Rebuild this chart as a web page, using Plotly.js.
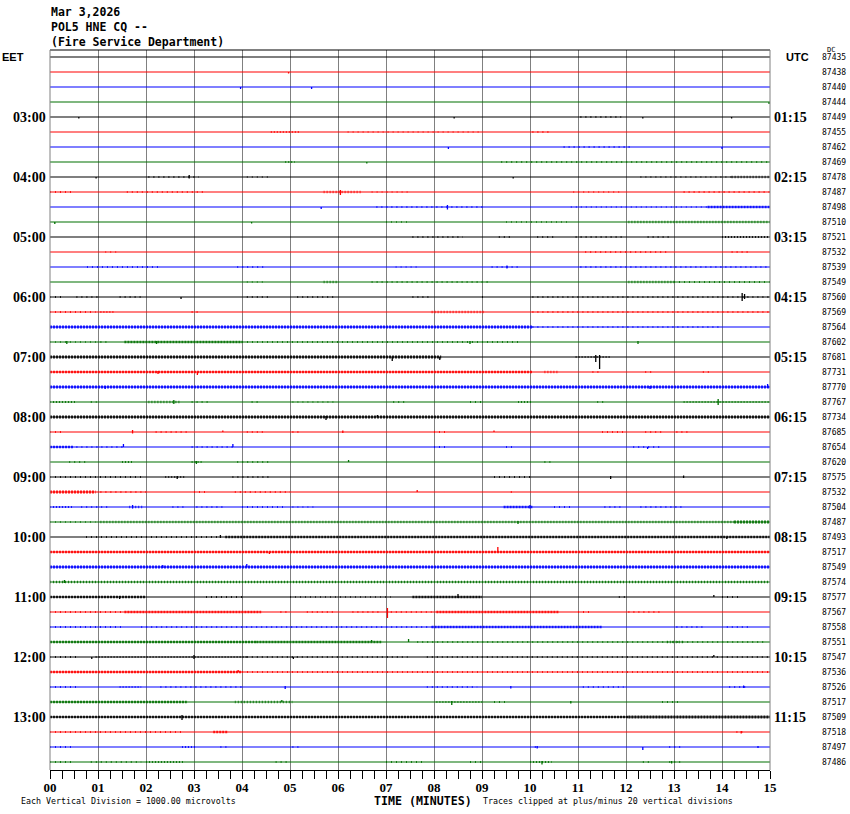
<!DOCTYPE html>
<html><head><meta charset="utf-8">
<script src="https://cdn.plot.ly/plotly-3.0.1.min.js"></script>
<style>body{margin:0;background:#fff}#chart{width:850px;height:814px}</style>
</head><body><div id="chart"></div>
<script>
// ---------- data read from the helicorder ----------
const headerLines = ["Mar 3,2026", "POL5 HNE CQ --", "(Fire Service Department)"];
const minuteTicks = [0,1,2,3,4,5,6,7,8,9,10,11,12,13,14,15];
const minuteLabels = ["00","01","02","03","04","05","06","07","08","09","10","11","12","13","14","15"];
const eetHourLabels = ["03:00","04:00","05:00","06:00","07:00","08:00","09:00","10:00","11:00","12:00","13:00"];
const utcHourLabels = ["01:15","02:15","03:15","04:15","05:15","06:15","07:15","08:15","09:15","10:15","11:15"];
const dcValues = [87435,87438,87440,87444,87449,87455,87462,87469,87478,87487,87498,87510,
  87521,87532,87539,87549,87560,87569,87564,87602,87681,87731,87770,87767,
  87734,87685,87654,87620,87575,87532,87504,87487,87493,87517,87549,87574,
  87577,87567,87558,87551,87547,87536,87526,87517,87509,87518,87497,87486];
const traceColors = ["#000000", "#ff0000", "#0000ff", "#007000"];
// noise envelopes: [trace row, start minute, end minute, half-amplitude (1/15 of row spacing)]
const noiseBands = [
 [4,11.05,11.9,0.5],
 [5,4.6,5.2,0.7],[5,6.2,9.0,0.4],[5,10.05,10.4,0.5],
 [6,10.7,12.1,0.5],
 [7,4.9,5.1,0.7],[7,9.4,15,0.5],
 [8,2.05,3.1,0.6],[8,4.1,4.6,0.4],[8,12.3,14.2,0.4],[8,14.2,15,0.8],
 [9,0,0.5,0.6],[9,1.6,3.2,0.5],[9,5.7,6.5,0.8],[9,6.7,7.5,0.4],[9,10.9,11.9,0.4],[9,13.2,15,0.5],
 [10,6.8,9.05,0.5],[10,10.85,13.7,0.4],[10,13.7,15,1.0],
 [11,7.0,7.5,0.4],[11,9.5,10.8,0.4],[11,12.05,15,0.8],
 [12,7.55,8.6,0.6],[12,9.35,9.6,0.5],[12,10.15,10.5,0.5],[12,10.95,11.95,0.5],[12,12.45,12.95,0.5],[12,14.0,15,0.7],
 [13,1.15,1.4,0.4],[13,11.15,12.9,0.5],[13,14.2,14.55,0.5],
 [14,0.77,2.3,0.5],[14,3.9,4.5,0.5],[14,7.2,7.65,0.4],[14,9.2,9.75,0.6],[14,11.05,15,0.5],
 [15,4.1,4.5,0.4],[15,5.7,6.0,0.8],[15,6.7,9.2,0.5],[15,12.05,13.0,0.9],[15,13.0,15,0.5],
 [16,0,0.3,0.6],[16,0.55,1.05,0.5],[16,1.45,1.9,0.5],[16,4.1,4.6,0.5],[16,5.15,5.95,0.5],[16,7.55,7.95,0.6],[16,9.0,9.1,0.6],[16,10.05,15,0.6],
 [17,0,0.95,0.5],[17,1.05,1.35,0.7],[17,2.95,3.15,0.6],[17,7.95,9.05,0.9],[17,10.05,15,0.5],
 [18,0,10.05,1.2],[18,10.05,14.0,0.5],
 [19,0,1.0,0.4],[19,1.05,1.25,0.6],[19,1.55,4.0,1.0],[19,4.0,9.75,0.5],
 [20,0,8.15,1.2],[20,10.95,11.7,0.7],
 [21,0,10.05,1.0],[21,10.3,10.6,0.8],[21,11.3,11.45,0.5],[21,12.4,12.55,0.6],[21,13.6,13.8,0.6],
 [22,0,15,1.2],
 [23,0,0.55,0.7],[23,0.85,0.97,0.5],[23,2.05,2.7,0.8],[23,2.95,3.35,0.6],[23,4.2,4.4,0.6],[23,5.05,5.95,0.4],[23,7.15,7.4,0.5],[23,8.75,9.0,0.6],[23,9.75,10.05,0.7],[23,11.4,11.6,0.5],[23,13.2,15,0.7],
 [24,0,15,1.2],
 [25,0,0.3,0.6],[25,2.2,2.9,0.6],[25,4.1,4.5,0.5],[25,5.05,5.25,0.5],[25,8.0,8.25,0.5],[25,11.5,12.0,0.5],[25,12.4,12.75,0.5],[25,13.05,13.35,0.5],
 [26,0,0.5,1.0],[26,0.55,1.55,0.5],[26,2.95,3.85,0.5],[26,8.0,8.25,0.6],[26,9.5,9.65,0.6],[26,12.15,12.75,0.6],
 [27,0.4,0.8,0.5],[27,1.5,1.75,0.7],[27,2.95,3.2,0.7],[27,3.9,4.6,0.5],[27,10.3,10.45,0.6],
 [28,0,1.9,0.5],[28,2.4,2.8,0.7],[28,3.8,4.55,0.5],[28,9.25,10.0,0.5],
 [29,0,0.95,1.1],[29,1.05,2.0,0.6],[29,3.0,3.25,0.5],[29,3.85,5.0,0.5],[29,9.6,9.7,0.6],
 [30,0,0.5,0.7],[30,0.65,1.25,0.5],[30,1.65,1.95,0.8],[30,2.55,2.8,0.6],[30,3.05,3.65,0.5],[30,4.0,4.9,0.5],[30,5.05,5.55,0.4],[30,9.45,10.05,1.0],[30,10.5,10.9,0.5],[30,11.55,11.9,0.5],[30,12.3,13.2,0.5],
 [31,0,0.95,0.4],[31,1.05,14.25,0.8],[31,14.25,15,1.1],
 [32,0.75,3.55,0.6],[32,3.65,15,1.0],
 [33,0,15,1.0],
 [34,0,15,1.2],
 [35,0,15,0.9],
 [36,0,2.0,1.0],[36,3.25,4.0,0.5],[36,5.0,7.1,0.4],[36,7.55,9.0,1.0],[36,11.85,12.05,0.5],[36,14.0,14.35,0.5],
 [37,0,1.5,0.5],[37,1.55,4.4,1.0],[37,4.8,5.0,0.6],[37,5.35,5.95,0.6],[37,6.3,6.9,0.6],[37,7.1,7.95,0.6],[37,8.05,10.6,1.0],[37,11.0,11.3,0.5],[37,12.05,12.75,0.6],
 [38,0,1.5,0.5],[38,1.9,7.95,0.5],[38,7.95,11.5,1.0],[38,13.05,13.6,0.6],[38,14.1,14.6,0.5],
 [39,0,4.3,1.0],[39,4.3,6.9,1.0],[39,7.65,14.9,0.5],[39,12.85,13.2,0.8],
 [40,0,0.55,0.5],[40,0.95,4.1,0.7],[40,4.1,7.45,0.5],[40,7.85,15,0.6],
 [41,0,4.0,1.0],[41,4.0,15,0.5],
 [42,0,0.55,0.6],[42,1.45,1.9,0.7],[42,2.3,4.0,0.6],[42,7.85,8.9,0.6],[42,11.1,11.95,0.6],[42,14.15,14.55,0.6],
 [43,0,2.85,1.0],[43,3.85,5.05,0.8],[43,8.05,9.0,0.7],[43,9.25,9.55,0.5],[43,12.75,13.1,0.5],
 [44,0,12.05,1.0],[44,12.05,15,1.2],
 [45,0,2.8,0.5],[45,3.4,3.7,1.0],[45,14.3,14.5,0.6],
 [46,0,0.5,0.6],[46,2.75,3.05,0.7],[46,3.55,3.75,0.6],[46,5.05,5.2,0.6],[46,10.1,10.2,0.6],[46,12.9,13.2,0.5],
 [47,0,0.5,0.5],[47,0.85,1.9,0.6],[47,2.0,2.8,0.7],[47,4.7,5.0,0.5],[47,7.0,7.75,0.6],[47,8.75,9.05,0.6],[47,10.0,10.45,0.7],[47,12.35,12.55,0.5],[47,12.9,13.2,0.6]
];
// discrete excursions: [trace row, minute, up, down] (1/15 of row spacing)
const spikes = [
 [1,4.97,0,1.5],[2,3.97,0,2],[2,5.45,0,2],[3,14.98,0,2],
 [4,0.6,0,1.5],[4,8.42,0,1.5],[4,12.35,0,1.5],[4,14.2,0,1.5],
 [6,8.3,0,2],[6,14.0,0,2],[7,6.6,0,1.5],
 [8,2.9,2,1.5],[8,0.96,0,1.5],[8,9.65,0,1.5],
 [9,6.05,2,3],[10,5.65,0,2],[10,8.28,2,2.5],[11,0.1,0,2],[11,4.2,0,1.5],
 [14,9.52,1.5,1.5],
 [16,2.73,0,2],[16,14.42,4,4],[16,14.47,3,2],
 [19,0.35,1,2],[19,2.22,1,2],[19,8.75,1,2],[19,12.25,1,2],
 [20,7.13,0,4],[20,8.12,0,3],[20,11.37,2,5],[20,11.45,2,12],
 [21,2.25,1,2],[21,3.07,0,3],
 [22,1.15,1,2],[22,12.5,1,2],[22,14.95,3,1],
 [23,2.58,2,2],[23,13.92,3,3],
 [24,5.75,1,3],[24,6.82,2,0],
 [25,1.72,2,1.5],[25,3.6,1.5,0],[25,6.1,1.5,1],[25,9.25,1.5,0],
 [26,1.53,3,0],[26,3.81,3,0],[26,12.45,0,2],
 [27,3.05,1,2],[27,6.22,2,0],
 [28,2.65,1,2],[28,11.68,1,2],[28,13.2,1.5,1],
 [29,7.65,2,0],[30,1.72,2,1.5],[30,10.0,2,1.5],[31,9.75,1,2],
 [32,3.55,2,1],[32,14.1,0,2],[33,4.57,0,2],[33,9.33,5,0],
 [34,2.35,2,1],[34,4.1,3,0],[35,0.3,2,1],
 [36,1.45,1,2],[36,8.5,3,1],[36,13.83,2,0],
 [37,7.03,4,6],
 [39,6.7,2,0],[39,7.47,3,0],
 [40,0.87,0,2],[40,3.0,2,2],[40,5.07,0,2],[40,13.83,2,0],
 [41,3.92,2,0],
 [42,4.9,1,2],[42,9.6,1,1.5],[42,14.45,1.5,1],
 [43,4.83,2,0],[43,8.37,1,3],[43,10.85,1,1.5],
 [44,2.75,2,3],[45,14.4,1,1.5],
 [46,10.15,1,1.5],[46,12.35,0,3],[46,14.75,1,1],
 [47,10.25,1,2.5],[47,12.95,1,1.5]
];
const footLeft = "Each Vertical Division = 1000.00 microvolts";
const footRight = "Traces clipped at plus/minus 20 vertical divisions";
const axisTitle = "TIME (MINUTES)";

// ---------- build ----------
const U = 1/15;           // one amplitude unit in row units (= 1 px)
const nRows = dcValues.length;
const xEnd = minuteTicks[minuteTicks.length-1];

const data = [];
// noise envelopes drawn as dashed strokes (short vertical ticks) centred on the trace
noiseBands.forEach(([r,t0,t1,a]) => {
  const col = traceColors[r%4];
  const dash = a >= 1 ? '2px,1px' : (a >= 0.7 ? '1px,2px' : '1px,4px');
  data.push({x:[t0,t1], y:[-r,-r], mode:'lines', opacity:0.85, line:{width:1+1.6*a, color:col, dash:dash}, hoverinfo:'skip'});
});
traceColors.forEach((col, c) => {
  const lx=[], ly=[];
  for (let r=c; r<nRows; r+=4){ lx.push(0,xEnd,null); ly.push(-r,-r,null); }
  data.push({x:lx,y:ly,mode:'lines',line:{width:1.2,color:col},hoverinfo:'skip'});
});
traceColors.forEach((col, c) => {
  const sx=[], sy=[];
  spikes.filter(s => s[0]%4===c).forEach(([r,t,up,dn]) => { sx.push(t,t,null); sy.push(-r+up*U,-r-dn*U,null); });
  data.push({x:sx,y:sy,mode:'lines',line:{width:1.3,color:col},hoverinfo:'skip'});
});

const PL=50, PT=50, PW=720, PH=720;
const px = v => (v-PL)/PW, py = v => (PT+PH-v)/PH;
const mono = 'DejaVu Sans Mono, monospace';
const ann = [];
headerLines.forEach((t,k) => ann.push({xref:'paper',yref:'paper',x:px(49),y:py(12+15*k),xanchor:'left',yanchor:'middle',text:t,showarrow:false,font:{family:mono,size:11.5,weight:'bold',color:'#000'}}));
eetHourLabels.forEach((t,k) => ann.push({xref:'paper',yref:'y',x:px(48),y:-4*(k+1),xanchor:'right',yanchor:'middle',text:t,showarrow:false,font:{family:'Liberation Serif, serif',size:14,weight:'bold',color:'#000'}}));
utcHourLabels.forEach((t,k) => ann.push({xref:'paper',yref:'y',x:px(772),y:-4*(k+1),xanchor:'left',yanchor:'middle',text:t,showarrow:false,font:{family:'Liberation Serif, serif',size:14,weight:'bold',color:'#000'}}));
dcValues.forEach((v,r) => ann.push({xref:'paper',yref:'y',x:px(820),y:-r,xanchor:'left',yanchor:'middle',text:String(v),showarrow:false,font:{family:mono,size:8,color:'#000'}}));
ann.push({xref:'paper',yref:'y',x:px(0),y:0,xanchor:'left',yanchor:'middle',text:'EET',showarrow:false,font:{family:'Liberation Sans, sans-serif',size:11,weight:'bold',color:'#000'}});
ann.push({xref:'paper',yref:'y',x:px(784),y:0,xanchor:'left',yanchor:'middle',text:'UTC',showarrow:false,font:{family:'Liberation Sans, sans-serif',size:11,weight:'bold',color:'#000'}});
ann.push({xref:'paper',yref:'paper',x:px(825),y:py(50),xanchor:'left',yanchor:'middle',text:'DC',showarrow:false,font:{family:mono,size:7,color:'#000'}});
ann.push({xref:'paper',yref:'paper',x:px(423),y:py(801),xanchor:'center',yanchor:'middle',text:axisTitle,showarrow:false,font:{family:mono,size:11.6,weight:'bold',color:'#000'}});
ann.push({xref:'paper',yref:'paper',x:px(19),y:py(801),xanchor:'left',yanchor:'middle',text:footLeft,showarrow:false,font:{family:mono,size:8.3,color:'#000'}});
ann.push({xref:'paper',yref:'paper',x:px(481),y:py(801),xanchor:'left',yanchor:'middle',text:footRight,showarrow:false,font:{family:mono,size:8.3,color:'#000'}});

const layout = {
  width:850, height:814, margin:{l:PL,r:80,t:PT,b:44,pad:0},
  paper_bgcolor:'#fff', plot_bgcolor:'#fff', showlegend:false,
  xaxis:{range:[0,xEnd], tickmode:'array', tickvals:minuteTicks, ticktext:minuteLabels,
    ticks:'outside', ticklen:8, tickwidth:1, tickcolor:'#000', ticklabelstandoff:-3,
    showgrid:true, gridcolor:'#808080', gridwidth:1, zeroline:false,
    showline:true, linecolor:'#000', linewidth:1, fixedrange:true,
    minor:{tickmode:'linear', tick0:0, dtick:0.25, ticks:'outside', ticklen:8, tickwidth:1, tickcolor:'#000', showgrid:false},
    tickfont:{family:'Liberation Serif, serif', size:13, weight:'bold', color:'#000'}},
  yaxis:{range:[-(nRows-1)-8*U, 7*U], visible:false, fixedrange:true},
  shapes:[
    {type:'line',xref:'paper',yref:'paper',x0:0,x1:1,y0:1,y1:1,line:{color:'#000',width:1}},
    {type:'line',xref:'paper',yref:'paper',x0:0,x1:0,y0:0,y1:1,line:{color:'#808080',width:1}},
    {type:'line',xref:'paper',yref:'paper',x0:1,x1:1,y0:0,y1:1,line:{color:'#808080',width:1}}
  ],
  annotations:ann
};
Plotly.newPlot('chart', data, layout, {staticPlot:true, displayModeBar:false});
</script></body></html>
